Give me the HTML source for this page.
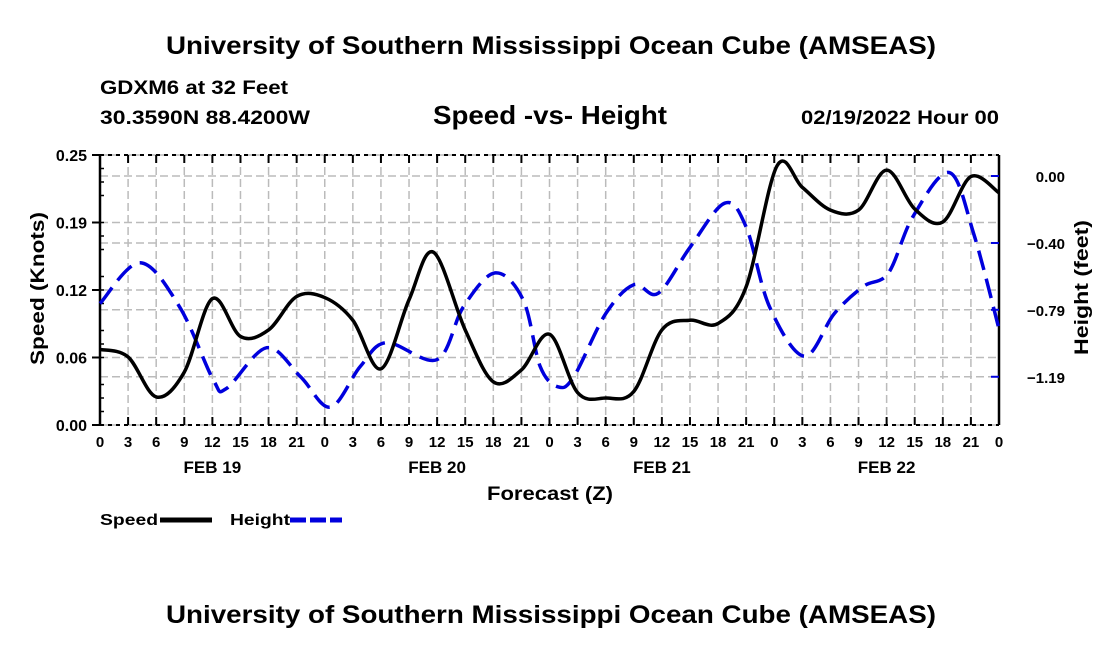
<!DOCTYPE html>
<html><head><meta charset="utf-8"><style>
body{margin:0;background:#fff;}
svg text{font-family:"Liberation Sans",sans-serif;font-weight:bold;fill:#000;}
</style></head><body>
<svg id="chart" width="1100" height="650">
<text x="166" y="54" font-size="25" textLength="770" lengthAdjust="spacingAndGlyphs">University of Southern Mississippi Ocean Cube (AMSEAS)</text>
<text x="100" y="94" font-size="19" textLength="188" lengthAdjust="spacingAndGlyphs">GDXM6 at 32 Feet</text>
<text x="100" y="124" font-size="19" textLength="210" lengthAdjust="spacingAndGlyphs">30.3590N  88.4200W</text>
<text x="433" y="124" font-size="26" textLength="234" lengthAdjust="spacingAndGlyphs">Speed -vs- Height</text>
<text x="801" y="124" font-size="19" textLength="198" lengthAdjust="spacingAndGlyphs">02/19/2022 Hour 00</text>
<g id="grid"></g>
<g id="axes"></g>
<g id="series"></g>
<text x="487" y="500" font-size="19" textLength="126" lengthAdjust="spacingAndGlyphs">Forecast (Z)</text>
<text transform="translate(44,365) rotate(-90)" font-size="19" textLength="153" lengthAdjust="spacingAndGlyphs">Speed (Knots)</text>
<text transform="translate(1088,355) rotate(-90)" font-size="19" textLength="135" lengthAdjust="spacingAndGlyphs">Height (feet)</text>
<g><text x="100" y="525" font-size="16" textLength="58" lengthAdjust="spacingAndGlyphs">Speed</text><line x1="160" y1="520" x2="212" y2="520" stroke="#000" stroke-width="5"/></g>
<g><text x="230" y="525" font-size="16" textLength="60" lengthAdjust="spacingAndGlyphs">Height</text><line x1="290" y1="520" x2="342" y2="520" stroke="#0000dd" stroke-width="5" stroke-dasharray="16,4"/></g>
<text x="166" y="623" font-size="25" textLength="770" lengthAdjust="spacingAndGlyphs">University of Southern Mississippi Ocean Cube (AMSEAS)</text>
</svg>
<script>
const speedHours=[0,3,6,9,12,15,18,21,24,27,30,33,35.6,39,42,45,48,51,54,57,60,63,66,69,72.3,75,78,81,84,87,90,93,96];
const speedValues=[0.070,0.063,0.026,0.049,0.117,0.082,0.088,0.119,0.118,0.097,0.052,0.116,0.160,0.088,0.040,0.051,0.084,0.030,0.025,0.031,0.088,0.097,0.094,0.128,0.240,0.220,0.199,0.199,0.236,0.200,0.188,0.230,0.215];
const heightHours=[0,4.3,8.5,12.1,13.5,17.8,21.4,24.6,27.8,30.6,36,38.8,42.2,45.2,47,48.9,50.6,54,57,59.6,63,66.7,69,71.5,75.2,78.4,81.5,84.2,86.8,90.7,93.3,96];
const heightValues=[-0.75,-0.51,-0.77,-1.20,-1.25,-1.01,-1.18,-1.36,-1.12,-0.98,-1.08,-0.77,-0.57,-0.73,-1.12,-1.24,-1.18,-0.81,-0.64,-0.69,-0.42,-0.16,-0.30,-0.77,-1.06,-0.81,-0.65,-0.57,-0.24,0.02,-0.34,-0.90];
const speedTicks=[0,0.0625,0.125,0.1875,0.25];
const speedTickLabels=["0.00","0.06","0.12","0.19","0.25"];
const heightTicks=[0,-0.394,-0.787,-1.181];
const heightTickLabels=["0.00","\u22120.40","\u22120.79","\u22121.19"];
const dayLabels=["FEB 19","FEB 20","FEB 21","FEB 22"];
const L=100,R=999,T=155,B=425;
const xs=h=>L+h*(R-L)/96;
const ys=v=>B-v*(B-T)/0.25;
const yh=v=>176-v*170;
const NS="http://www.w3.org/2000/svg";
function mk(p,tag,a){const e=document.createElementNS(NS,tag);for(const k in a)e.setAttribute(k,a[k]);p.appendChild(e);return e;}
const grid=document.getElementById('grid'),axes=document.getElementById('axes'),ser=document.getElementById('series');
const gs={stroke:"#bbb","stroke-width":1.5,"stroke-dasharray":"8,4"};
for(let h=3;h<96;h+=3){const l=mk(grid,'line',Object.assign({x1:xs(h),x2:xs(h),y1:T,y2:B},gs));}
speedTicks.forEach(v=>{const l=mk(grid,'line',Object.assign({x1:L,x2:R,y1:ys(v),y2:ys(v)},gs));});
heightTicks.forEach(v=>{const l=mk(grid,'line',Object.assign({x1:L,x2:R,y1:yh(v),y2:yh(v)},gs));});
mk(axes,'line',{x1:L,x2:L,y1:T,y2:B,stroke:"#000","stroke-width":2.5});
mk(axes,'line',{x1:R,x2:R,y1:T,y2:B,stroke:"#000","stroke-width":2.5});
mk(axes,'line',{x1:L,x2:R,y1:T,y2:T,stroke:"#000","stroke-width":2,"stroke-dasharray":"4,4"});
mk(axes,'line',{x1:L,x2:R,y1:B,y2:B,stroke:"#000","stroke-width":2,"stroke-dasharray":"4,4"});
for(let h=0;h<=96;h+=3){
 mk(axes,'line',{x1:xs(h),x2:xs(h),y1:B-8,y2:B,stroke:"#000","stroke-width":2});
 mk(axes,'line',{x1:xs(h),x2:xs(h),y1:T,y2:T+8,stroke:"#000","stroke-width":2});
 const t=mk(axes,'text',{x:xs(h),y:447,"font-size":15,"text-anchor":"middle"});t.textContent=String(h%24);
 
}
dayLabels.forEach((d,i)=>{const t=mk(axes,'text',{x:xs(12+24*i),y:473,"font-size":17,"text-anchor":"middle"});t.textContent=d;
 });
speedTicks.forEach((v,i)=>{mk(axes,'line',{x1:L-8,x2:L,y1:ys(v),y2:ys(v),stroke:"#000","stroke-width":2});
 const t=mk(axes,'text',{x:L-13,y:ys(v)+6,"font-size":16,"text-anchor":"end"});t.textContent=speedTickLabels[i];
 });
for(let k=1;k<20;k++){if(k%4)mk(axes,'line',{x1:L,x2:L+4,y1:ys(k*0.0125),y2:ys(k*0.0125),stroke:"#000","stroke-width":1.5});}
heightTicks.forEach((v,i)=>{mk(axes,'line',{x1:R-8,x2:R,y1:yh(v),y2:yh(v),stroke:"#0000dd","stroke-width":2});
 const t=mk(axes,'text',{x:1065,y:yh(v)+6,"font-size":15,"text-anchor":"end"});t.textContent=heightTickLabels[i];
 });
function smooth(pts){let d=`M${pts[0][0]},${pts[0][1]}`;
 for(let i=0;i<pts.length-1;i++){const p0=pts[i-1]||pts[i],p1=pts[i],p2=pts[i+1],p3=pts[i+2]||p2;
  d+=` C${p1[0]+(p2[0]-p0[0])/6},${p1[1]+(p2[1]-p0[1])/6} ${p2[0]-(p3[0]-p1[0])/6},${p2[1]-(p3[1]-p1[1])/6} ${p2[0]},${p2[1]}`;}
 return d;}
const hp=mk(ser,'path',{d:smooth(heightHours.map((h,i)=>[xs(h),yh(heightValues[i])])),fill:"none",stroke:"#0000dd","stroke-width":3.5,"stroke-dasharray":"20,9"});


const sp=mk(ser,'path',{d:smooth(speedHours.map((h,i)=>[xs(h),ys(speedValues[i])])),fill:"none",stroke:"#000","stroke-width":3.5});


</script>
</body></html>
